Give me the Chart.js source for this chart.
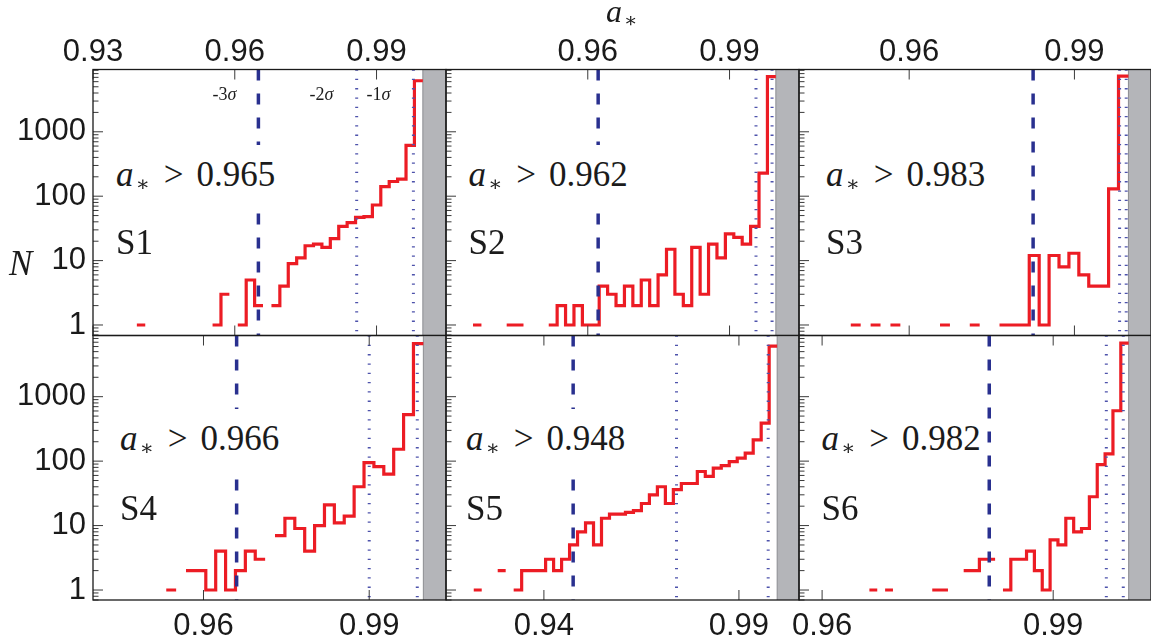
<!DOCTYPE html>
<html>
<head>
<meta charset="utf-8">
<script src="https://cdn.jsdelivr.net/npm/chart.js@4.4.1/dist/chart.umd.min.js"></script>
<style>
html,body{margin:0;padding:0;background:#fff;}
body{width:1151px;height:642px;position:relative;overflow:hidden;}
canvas{position:absolute;left:0;top:0;}
.t{position:absolute;font-family:'Liberation Serif',serif;color:#1b1b1b;white-space:nowrap;}
.big{font-size:35px;line-height:35px;}
.box{background:#fff;padding:12px 3px 8px 3px;}
.ast{font-family:'DejaVu Serif',serif;font-size:21px;position:relative;top:5px;margin-left:2px;}
.gt{margin-left:14px;margin-right:13px;}
.sig{font-size:18px;line-height:18px;}
</style>
</head>
<body>
<script>
// ---------------- data ----------------
const panelNames = ['S1', 'S2', 'S3', 'S4', 'S5', 'S6'];
const cutLabels  = ['0.965', '0.962', '0.983', '0.966', '0.948', '0.982'];
const cutValues  = [0.965, 0.9622, 0.9825, 0.966, 0.9475, 0.9817];   // dashed (-3 sigma) lines
const sigma2     = [0.9858, 0.9956, 0.9982, 0.9900, 0.9740, 0.9969]; // dotted -2 sigma
const sigma1     = [0.9978, 0.9990, 0.9994, 0.9987, 0.9975, 0.9991]; // dotted -1 sigma
const binTop     = 0.9998;                                            // upper edge of last bin / start of grey band
const binWidths  = [0.00178, 0.00178, 0.0018, 0.00179, 0.002047, 0.00102];

const countsS1 = [1,0,0,0,0,0,0,0,0,1,3,0,1,5,2,0,2,4,9,11,17,18,16,22,34,39,47,48,73,141,169,184,614,6200];
const countsS2 = [1,0,0,0,1,1,0,0,0,1,2,1,2,1,1,4,3,2,4,2,5,2,6,15,3,2,16,3,18,11,26,23,18,34,228,7200];
const countsS3 = [1,0,1,0,1,0,0,0,0,1,0,0,1,0,0,1,1,1,12,1,12,8,13,6,4,4,130,7300];
const countsS4 = [1,0,2,2,1,4,1,2,4,3,0,7,13,9,4,10,21,11,14,40,95,82,63,153,525,6650];
const countsS5 = [1,0,0,2,0,1,2,2,2,3,2,3,5,8,11,5,13,15,15,16,17,22,30,40,22,36,45,45,69,58,78,85,98,111,133,214,388,6100];
const countsS6 = [1,0,1,0,0,0,0,0,1,1,0,0,2,2,3,3,0,1,3,3,4,2,1,6,5,13,8,9,28,88,130,605,6800];
const countsList = [countsS1, countsS2, countsS3, countsS4, countsS5, countsS6];

const xMin = [0.93, 0.93, 0.94, 0.94, 0.9149, 0.957];
const xMax = [1.0047, 1.0047, 1.0039, 1.0039, 1.0054, 1.0027];
const yMinRow = [0.687, 0.70];
const yMaxRow = [9270, 8900];
const xTickValues = [[0.93, 0.96, 0.99], [0.96, 0.99], [0.96, 0.99], [0.96, 0.99], [0.94, 0.99], [0.96, 0.99]];
const yTickValues = [1, 10, 100, 1000];

// ---------------- layout ----------------
const W = 1151, H = 642;
const colL = [93, 446, 799], colR = [446, 799, 1151];
const rowT = [69.5, 335.5], rowB = [335.5, 600];
const txtLeft = [116, 468.5, 826, 120, 466, 821.5];
const txtBase = [[186.7, 254], [450.7, 520]];
const BASE_OFF = 0.8375 * 35;

const RED = '#ec1c24', NAVY = '#29308f', DOT = '#4d52ab';

const panelDecor = {
  id: 'panelDecor',
  beforeDatasetsDraw(chart, args, o) {
    const {ctx, chartArea: a} = chart;
    const gx = chart.scales.x.getPixelForValue(o.grayFrom);
    ctx.save();
    ctx.fillStyle = '#b4b5b9';
    ctx.fillRect(gx, a.top, a.right - gx, a.bottom - a.top);
    ctx.strokeStyle = '#8c8d92'; ctx.lineWidth = 1;
    ctx.beginPath(); ctx.moveTo(gx, a.top); ctx.lineTo(gx, a.bottom); ctx.stroke();
    ctx.restore();
  },
  afterDatasetsDraw(chart, args, o) {
    const {ctx, chartArea: a} = chart;
    const x = chart.scales.x, y = chart.scales.y;
    ctx.save();
    ctx.strokeStyle = '#3a3a3a'; ctx.lineWidth = 1;
    ctx.beginPath();
    for (let e = -1; e <= 4; e++) {
      for (let m = 1; m <= 9; m++) {
        const v = m * Math.pow(10, e);
        if (v < y.min * 0.999 || v > y.max) continue;
        const py = y.getPixelForValue(v);
        const len = m === 1 ? 10 : 5.5;
        ctx.moveTo(a.left, py); ctx.lineTo(a.left + len, py);
      }
    }
    for (const v of o.xTicks) {
      const px = x.getPixelForValue(v);
      ctx.moveTo(px, a.top); ctx.lineTo(px, a.top + 10);
      ctx.moveTo(px, a.bottom); ctx.lineTo(px, a.bottom - 10);
    }
    ctx.stroke();
    ctx.strokeStyle = '#1a1a1a'; ctx.lineWidth = 1.3;
    ctx.strokeRect(a.left, a.top, a.right - a.left, a.bottom - a.top);
    ctx.restore();
  }
};

function histPoints(counts, width) {
  const n = counts.length, pts = [];
  for (let k = 0; k < n; k++) {
    const lo = binTop - (n - k) * width, hi = lo + width;
    if (counts[k] > 0) { pts.push({x: lo, y: counts[k]}, {x: hi, y: counts[k]}); }
    else { pts.push({x: lo, y: null}); }
  }
  return pts;
}

function vline(v, r, color, width, dash) {
  return {
    data: [{x: v, y: yMaxRow[r]}, {x: v, y: yMinRow[r]}],
    borderColor: color, borderWidth: width, borderDash: dash,
    pointRadius: 0, borderCapStyle: 'butt', fill: false
  };
}

for (let i = 0; i < 6; i++) {
  const r = Math.floor(i / 3), c = i % 3;
  const isTop = r === 0, hasY = c === 0;
  const cv = document.createElement('canvas');
  cv.width = W; cv.height = H;
  document.body.appendChild(cv);
  const axisH = isTop ? rowT[0] : H - rowB[1];
  new Chart(cv, {
    type: 'line',
    data: {
      datasets: [
        vline(cutValues[i], r, NAVY, 3.5, [11, 13]),
        vline(sigma2[i], r, DOT, 3, [1.3, 8]),
        vline(sigma1[i], r, DOT, 3, [1.3, 8]),
        {
          data: histPoints(countsList[i], binWidths[i]),
          borderColor: RED, borderWidth: 3.2, pointRadius: 0,
          borderJoinStyle: 'miter', borderCapStyle: 'butt', fill: false, spanGaps: false
        }
      ]
    },
    options: {
      responsive: false, animation: false, devicePixelRatio: 1, events: [],
      layout: {padding: {
        left: hasY ? colL[c] - 93 : colL[c],
        right: W - colR[c],
        top: isTop ? 0 : rowT[r],
        bottom: isTop ? H - rowB[r] : 0
      }},
      plugins: {
        legend: {display: false}, tooltip: {enabled: false},
        panelDecor: {grayFrom: binTop, xTicks: xTickValues[i]}
      },
      scales: {
        x: {
          type: 'linear', position: isTop ? 'top' : 'bottom',
          min: xMin[i], max: xMax[i], bounds: 'data',
          grid: {display: false, drawTicks: false}, border: {display: false},
          ticks: {
            autoSkip: false, maxRotation: 0, minRotation: 0,
            padding: isTop ? 1.5 : 10.5, color: '#1a1a1a',
            font: {family: 'Liberation Sans', size: 31, lineHeight: 1},
            callback: v => Number(v).toFixed(2)
          },
          afterBuildTicks: s => { s.ticks = xTickValues[i].map(v => ({value: v})); },
          afterFit: s => { s.height = axisH; s.paddingLeft = 0; s.paddingRight = 0; }
        },
        y: {
          type: 'logarithmic', position: 'left', display: hasY,
          min: yMinRow[r], max: yMaxRow[r], bounds: 'data',
          grid: {display: false, drawTicks: false}, border: {display: false},
          ticks: {
            autoSkip: false, padding: 7, color: '#1a1a1a',
            font: {family: 'Liberation Sans', size: 31, lineHeight: 1},
            callback: v => String(v)
          },
          afterBuildTicks: s => { s.ticks = yTickValues.map(v => ({value: v})); },
          afterFit: s => { s.width = hasY ? 93 : 0; }
        }
      }
    },
    plugins: [panelDecor]
  });
}

// ---------------- text ----------------
function addDiv(cls, html, left, top) {
  const d = document.createElement('div');
  d.className = 't ' + cls;
  d.innerHTML = html;
  d.style.left = left + 'px';
  d.style.top = top + 'px';
  document.body.appendChild(d);
  return d;
}
for (let i = 0; i < 6; i++) {
  const r = Math.floor(i / 3);
  const b1 = txtBase[r][0], b2 = txtBase[r][1];
  addDiv('big box', '<i>a</i><span class="ast">∗</span><span class="gt">&gt;</span>' + cutLabels[i],
         txtLeft[i] - 3, b1 - BASE_OFF - 12);
  addDiv('big', panelNames[i], txtLeft[i], b2 - BASE_OFF);
}
addDiv('big', '<i>N</i>', 9, 275 - BASE_OFF);
const ttl = addDiv('', '<i>a</i><span class="ast" style="font-size:20px;top:5px;">∗</span>', 606, 21.7 - 26.8);
ttl.style.fontSize = '32px'; ttl.style.lineHeight = '32px';
addDiv('sig', '-3<i>σ</i>', 212.5, 100 - 15.1);
addDiv('sig', '-2<i>σ</i>', 309.5, 100 - 15.1);
addDiv('sig', '-1<i>σ</i>', 366.5, 100 - 15.1);
</script>
</body>
</html>
